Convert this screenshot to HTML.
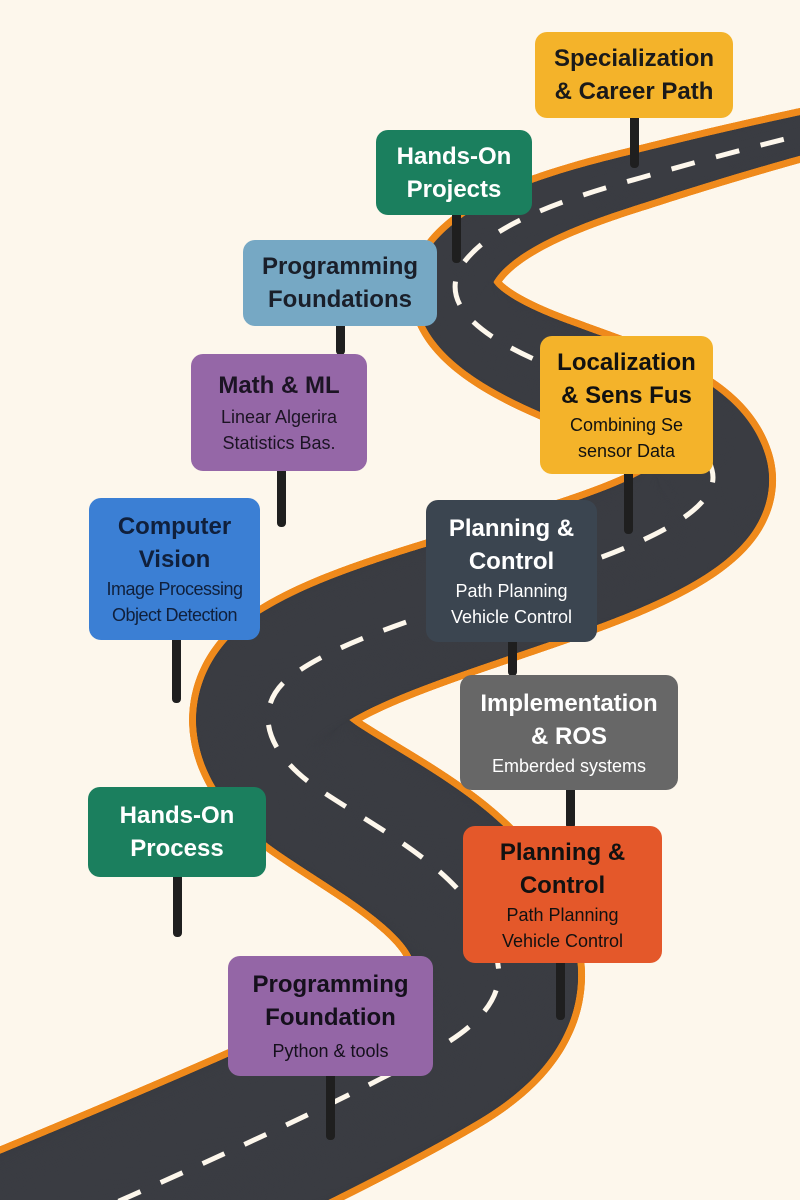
<!DOCTYPE html>
<html style="overflow:hidden;height:1200px"><head><meta charset="utf-8"><style>
body{margin:0;width:800px;height:1200px;background:#fdf7ec;overflow:hidden;position:relative;font-family:"Liberation Sans",sans-serif}
svg{position:absolute;left:0;top:0;overflow:hidden}
.s{position:absolute;border-radius:12px;text-align:center;box-sizing:border-box;display:flex;flex-direction:column;justify-content:center}
.t{font-weight:bold;font-size:24px;line-height:33px}
.d{font-size:18px;line-height:26px}
.p{position:absolute;width:9px;background:#1f1f1f;border-radius:4px}
</style></head><body>
<svg id="r" width="800" height="1200" viewBox="0 0 800 1200">
<path id="c" fill="none" stroke="none" d="M -50 1275 C 100 1210 330 1110 440 1047 C 520 1000 500 960 485 930 C 460 870 380 830 320 790 C 260 750 250 700 300 670 C 360 630 480 600 580 565 C 680 530 720 500 712 470 C 700 420 620 395 560 370 C 470 335 440 300 462 265 C 490 225 560 200 640 178 C 720 155 780 140 830 128"/>
</svg>
<script>
(function(){
var svg=document.getElementById('r'),p=document.getElementById('c'),L=p.getTotalLength(),ns='http://www.w3.org/2000/svg';
function hw(y){var a=[[130,19],[300,40],[500,58],[720,72],[1000,80],[1300,94]];if(y<=a[0][0])return a[0][1];for(var i=1;i<a.length;i++){if(y<=a[i][0]){var f=(y-a[i-1][0])/(a[i][0]-a[i-1][0]);return a[i-1][1]+f*(a[i][1]-a[i-1][1]);}}return 94;}
var g1=document.createElementNS(ns,'g'),g2=document.createElementNS(ns,'g');
for(var s=0;s<=L;s+=2){var q=p.getPointAtLength(s);if(q.y>1320||q.x>900)continue;var h=hw(q.y);
var c=document.createElementNS(ns,'circle');c.setAttribute('cx',q.x);c.setAttribute('cy',q.y);c.setAttribute('r',h+7);c.setAttribute('fill','#ef8a1c');g1.appendChild(c);
var d=document.createElementNS(ns,'circle');d.setAttribute('cx',q.x);d.setAttribute('cy',q.y);d.setAttribute('r',h);d.setAttribute('fill','#3a3c42');g2.appendChild(d);}
svg.appendChild(g1);svg.appendChild(g2);
var dash=document.createElementNS(ns,'path');dash.setAttribute('d',p.getAttribute('d'));dash.setAttribute('fill','none');dash.setAttribute('stroke','#fdf7ec');dash.setAttribute('stroke-width','5');dash.setAttribute('stroke-dasharray','24 22');svg.appendChild(dash);
})();
</script>
<div class="p" style="left:630px;top:110px;height:58px"></div>
<div class="p" style="left:452px;top:205px;height:58px"></div>
<div class="p" style="left:336px;top:320px;height:35px"></div>
<div class="p" style="left:277px;top:465px;height:62px"></div>
<div class="p" style="left:172px;top:635px;height:68px"></div>
<div class="p" style="left:624px;top:468px;height:66px"></div>
<div class="p" style="left:508px;top:636px;height:40px"></div>
<div class="p" style="left:566px;top:785px;height:44px"></div>
<div class="p" style="left:173px;top:870px;height:67px"></div>
<div class="p" style="left:556px;top:958px;height:62px"></div>
<div class="p" style="left:326px;top:1070px;height:70px"></div>

<div class="s" style="left:535px;top:32px;width:198px;height:86px;background:#f4b32a;color:#1a1a1a"><div class="t">Specialization<br>&amp; Career Path</div></div>
<div class="s" style="left:376px;top:130px;width:156px;height:85px;background:#1b7f5e;color:#fff"><div class="t">Hands-On<br>Projects</div></div>
<div class="s" style="left:243px;top:240px;width:194px;height:86px;background:#76a8c4;color:#1a1f2a"><div class="t">Programming<br>Foundations</div></div>
<div class="s" style="left:191px;top:354px;width:176px;height:117px;background:#9567a7;color:#1c1424"><div class="t">Math &amp; ML</div><div class="d" style="margin-top:2px">Linear Algerira<br>Statistics Bas.</div></div>
<div class="s" style="left:89px;top:498px;width:171px;height:142px;background:#3b7fd4;color:#10203c"><div class="t">Computer<br>Vision</div><div class="d" style="letter-spacing:-0.5px">Image Processing<br>Object Detection</div></div>
<div class="s" style="left:540px;top:336px;width:173px;height:138px;background:#f4b32a;color:#111"><div class="t">Localization<br>&amp; Sens Fus</div><div class="d">Combining Se<br>sensor Data</div></div>
<div class="s" style="left:426px;top:500px;width:171px;height:142px;background:#3b4550;color:#fff"><div class="t">Planning &amp;<br>Control</div><div class="d">Path Planning<br>Vehicle Control</div></div>
<div class="s" style="left:460px;top:675px;width:218px;height:115px;background:#676767;color:#fff"><div class="t">Implementation<br>&amp; ROS</div><div class="d">Emberded systems</div></div>
<div class="s" style="left:88px;top:787px;width:178px;height:90px;background:#1b7f5e;color:#fff"><div class="t">Hands-On<br>Process</div></div>
<div class="s" style="left:463px;top:826px;width:199px;height:137px;background:#e4582a;color:#111"><div class="t">Planning &amp;<br>Control</div><div class="d">Path Planning<br>Vehicle Control</div></div>
<div class="s" style="left:228px;top:956px;width:205px;height:120px;background:#9466a6;color:#15101c"><div class="t">Programming<br>Foundation</div><div class="d" style="margin-top:4px">Python &amp; tools</div></div>
</body></html>
